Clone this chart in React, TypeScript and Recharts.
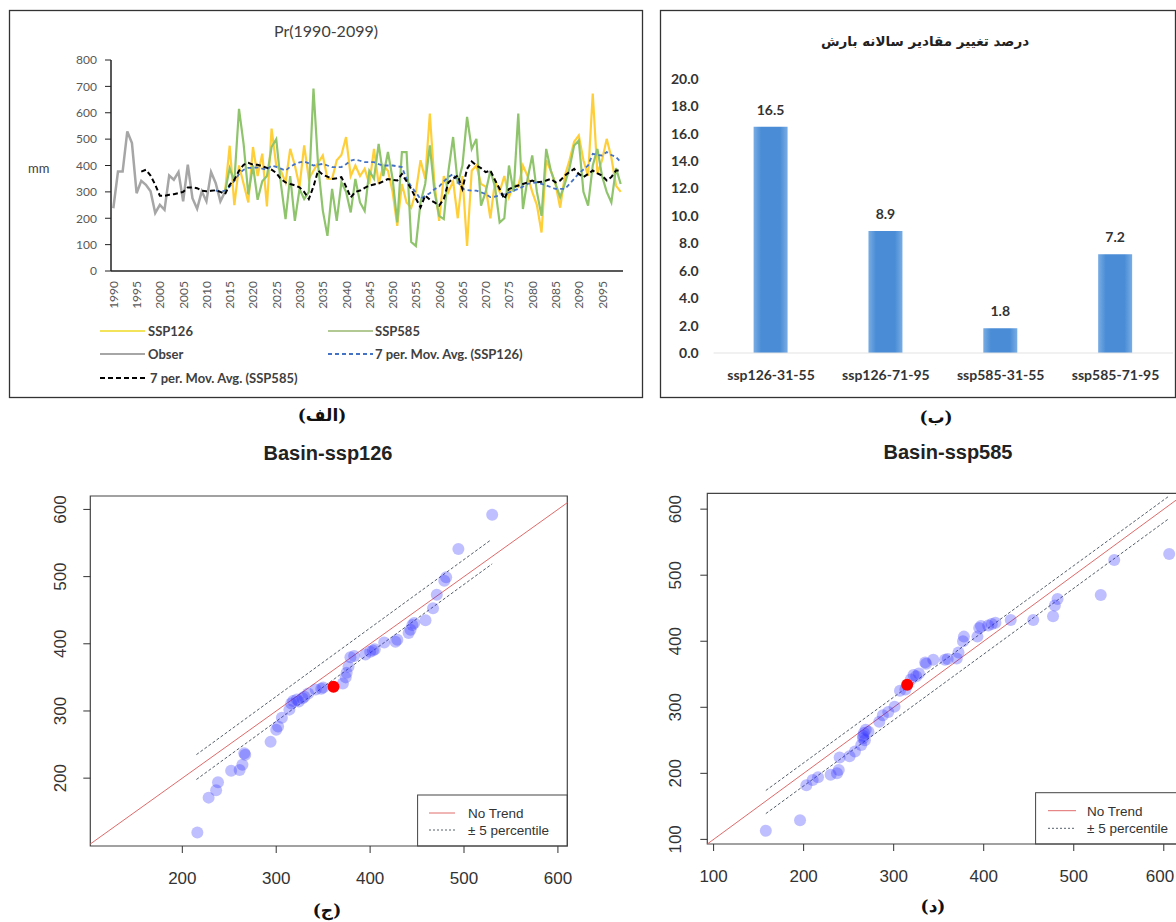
import React from 'react';
import {
  LineChart,
  Line,
  XAxis,
  YAxis,
  BarChart,
  Bar,
  LabelList,
  ScatterChart,
  Scatter,
  ReferenceLine,
  ReferenceArea,
} from 'recharts';

// ---------- (الف) annual precipitation 1990-2099, mm ----------
const obsStart = 1990;
const obsValues = [238, 377, 377, 529, 485, 295, 342, 327, 302, 220, 251, 232, 362, 346, 375, 264, 403, 276, 236, 302, 264, 375, 333, 264, 300];

const sspStart = 2014;
const ssp126Values = [
  300, 475, 250, 400, 330, 260, 470, 360, 445, 245,
  540, 400, 380, 336, 463, 400, 320, 476, 349, 380,
  410, 438, 350, 349, 420, 440, 508, 360, 400, 360,
  387, 330, 463, 330, 400, 380, 300, 171, 330, 260,
  240, 300, 420, 350, 597, 330, 190, 360, 300, 340,
  200, 360, 95, 380, 400, 330, 320, 200, 340, 300,
  360, 280, 330, 320, 400, 360, 300, 250, 146, 420,
  380, 330, 240, 360, 420, 490, 514, 420, 360, 673,
  370, 420, 501, 430, 324, 300,
];
const ssp585Values = [
  300, 390, 340, 615, 480, 290, 400, 270, 340, 360,
  470, 500, 330, 197, 360, 190, 311, 273, 300, 692,
  400, 230, 133, 311, 190, 336, 300, 222, 349, 260,
  228, 380, 350, 482, 360, 451, 350, 184, 451, 451,
  110, 95, 260, 330, 476, 300, 209, 197, 380, 508,
  330, 400, 584, 463, 501, 248, 300, 380, 320, 184,
  200, 400, 300, 597, 235, 350, 438, 300, 209, 463,
  380, 330, 280, 330, 390, 476, 495, 300, 248, 400,
  463, 360, 300, 260, 390, 330,
];

// 7 per. moving averages as drawn
const ma585Start = 1996;
const ma585Values = [
  377, 384, 362, 327, 285, 285, 289, 291, 295, 300,
  317, 317, 314, 304, 302, 304, 306, 300, 291, 327,
  346, 380, 403, 410, 403, 403, 397, 391, 384, 372,
  349, 336, 330, 325, 317, 300, 273, 320, 381, 365,
  358, 349, 352, 356, 320, 279, 300, 305, 315, 324,
  328, 332, 340, 349, 345, 343, 368, 340, 311, 275,
  241, 286, 270, 260, 248, 273, 336, 350, 362, 311,
  387, 415, 400, 390, 375, 381, 345, 311, 273, 311,
  318, 324, 330, 336, 343, 336, 338, 343, 349, 336,
  343, 362, 375, 387, 368, 356, 368, 381, 370, 362,
  343, 356, 381, 381,
];
const ma126Start = 2012;
const ma126Values = [
  306, 300, 305, 320, 342, 367, 384, 391, 391, 393,
  388, 384, 400, 395, 388, 381, 395, 405, 412, 415,
  408, 400, 403, 406, 400, 394, 394, 394, 405, 418,
  423, 418, 413, 413, 413, 405, 400, 400, 400, 397,
  394, 349, 320, 298, 273, 285, 295, 310, 320, 340,
  356, 368, 340, 311, 307, 305, 305, 298, 292, 280,
  282, 286, 292, 298, 305, 311, 320, 330, 333, 336,
  330, 324, 318, 311, 311, 311, 330, 349, 370, 385,
  400, 444, 440, 438, 451, 440, 432, 413,
];

const yearTicks = [1990, 1995, 2000, 2005, 2010, 2015, 2020, 2025, 2030, 2035, 2040, 2045, 2050, 2055, 2060, 2065, 2070, 2075, 2080, 2085, 2090, 2095];
const mmTicks = [0, 100, 200, 300, 400, 500, 600, 700, 800];

// ---------- (ب) percent change of annual precipitation ----------
const periodLabels = ['ssp126-31-55', 'ssp126-71-95', 'ssp585-31-55', 'ssp585-71-95'];
const changeValues = [16.5, 8.9, 1.8, 7.2];
const pctTicks = [0, 2, 4, 6, 8, 10, 12, 14, 16, 18, 20];

// ---------- (ج) Basin-ssp126 ----------
const b126X = [216, 228, 236, 238, 252, 261, 264, 267, 266, 294, 300, 302, 306, 314, 316, 318, 322, 324, 328, 330, 334, 342, 348, 350, 371, 374, 375, 377, 379, 383, 395, 400, 403, 405, 415, 427, 429, 441, 443, 445, 447, 459, 467, 471, 479, 481, 494, 530];
const b126Y = [119, 171, 182, 194, 211, 212, 220, 235, 237, 254, 272, 277, 290, 302, 311, 315, 317, 314, 319, 321, 326, 332, 333, 335, 341, 350, 357, 366, 380, 382, 384, 388, 390, 392, 402, 403, 406, 416, 421, 428, 431, 435, 453, 473, 494, 499, 541, 592];
const b126Mark = [361, 336];
const b126Upper = [[215, 235], [529, 555]];
const b126Lower = [[215, 198], [530, 519]];
const b126Ticks = [200, 300, 400, 500, 600];

// ---------- (د) Basin-ssp585 ----------
const b585X = [158, 196, 203, 210, 216, 230, 237, 239, 240, 251, 257, 264, 266, 266, 267, 268, 269, 272, 284, 288, 294, 301, 307, 313, 319, 322, 325, 328, 335, 336, 344, 357, 360, 370, 372, 377, 378, 393, 395, 397, 405, 409, 413, 430, 455, 477, 479, 482, 530, 545, 606];
const b585Y = [113, 129, 182, 190, 194, 198, 200, 205, 224, 226, 233, 243, 253, 257, 261, 250, 266, 263, 278, 288, 293, 301, 325, 327, 342, 349, 347, 351, 368, 366, 372, 372, 373, 374, 383, 400, 407, 407, 420, 423, 424, 426, 428, 432, 432, 438, 454, 464, 470, 523, 532];
const b585Mark = [315, 334];
const b585Upper = [[158, 174], [606, 620]];
const b585Lower = [[158, 139], [606, 586]];
const b585Ticks = [100, 200, 300, 400, 500, 600];

const at = (arr: number[], start: number, year: number) => {
  const v = arr[year - start];
  return v === undefined || year < start ? null : v;
};

const precipRows: any[] = [];
for (let y = 1990; y <= 2099; y++) {
  precipRows.push({
    year: y,
    obs: at(obsValues, obsStart, y),
    ssp126: at(ssp126Values, sspStart, y),
    ssp585: at(ssp585Values, sspStart, y),
    ma126: at(ma126Values, ma126Start, y),
    ma585: at(ma585Values, ma585Start, y),
  });
}

const barRows = periodLabels.map((p, i) => ({ period: p, change: changeValues[i] }));
const toPoints = (xs: number[], ys: number[]) => xs.map((x, i) => ({ x, y: ys[i] }));
const b126Points = toPoints(b126X, b126Y);
const b585Points = toPoints(b585X, b585Y);

const EXCEL_FONT = 'Lato, "Open Sans", sans-serif';
const R_FONT = '"Liberation Sans", Arial, sans-serif';
const CAP_FONT = '"DejaVu Serif", "DejaVu Sans", serif';

const YearTick = ({ x, y, payload }: any) => (
  <text
    x={x}
    y={y}
    transform={`rotate(-90 ${x} ${y})`}
    textAnchor="end"
    dominantBaseline="central"
    fontSize={12}
    fill="#595959"
    fontFamily={EXCEL_FONT}
  >
    {payload.value}
  </text>
);

const RotTick = ({ x, y, payload }: any) => (
  <text
    x={x}
    y={y}
    transform={`rotate(-90 ${x} ${y})`}
    textAnchor="middle"
    fontSize={17}
    fill="#333"
    fontFamily={R_FONT}
  >
    {payload.value}
  </text>
);

// x tick that stays inside the visible page edge
const makeXTick = (maxX: number) => ({ x, y, payload }: any) => {
  const half = 15;
  const cx = Math.min(x, maxX - half);
  return (
    <text x={cx} y={y} dy="0.71em" textAnchor="middle" fontSize={17} fill="#333" fontFamily={R_FONT}>
      {payload.value}
    </text>
  );
};

const blueDot = (p: any) => <circle cx={p.cx} cy={p.cy} r={6} fill="#2a2aff" fillOpacity={0.3} />;
const redDot = (p: any) => <circle cx={p.cx} cy={p.cy} r={6} fill="#ff0000" />;

const QQPanel = ({ points, mark, upper, lower, xDomain, yDomain, ticks, margin, width, maxX }: any) => {
  const XTick = makeXTick(maxX);
  const lo = Math.max(xDomain[0], yDomain[0]);
  const hi = Math.min(xDomain[1], yDomain[1]);
  return (
    <ScatterChart width={width} height={460} margin={margin}>
      <ReferenceArea x1={xDomain[0]} x2={xDomain[1]} y1={yDomain[0]} y2={yDomain[1]} fill="none" stroke="#444" strokeWidth={1.2} />
      <XAxis
        type="number"
        dataKey="x"
        domain={xDomain}
        ticks={ticks}
        interval={0}
        allowDataOverflow
        axisLine={false}
        tickSize={7}
        tickMargin={19}
        tickLine={{ stroke: '#333' }}
        tick={<XTick />}
        height={40}
      />
      <YAxis
        type="number"
        dataKey="y"
        domain={yDomain}
        ticks={ticks}
        interval={0}
        allowDataOverflow
        axisLine={false}
        tickSize={7}
        tickMargin={margin.tm}
        tickLine={{ stroke: '#333' }}
        tick={<RotTick />}
        width={50}
      />
      <ReferenceLine segment={[{ x: lo, y: lo }, { x: hi, y: hi }]} stroke="#e06a6a" strokeWidth={1} />
      <ReferenceLine segment={[{ x: upper[0][0], y: upper[0][1] }, { x: upper[1][0], y: upper[1][1] }]} stroke="#56606c" strokeDasharray="3 2" strokeWidth={1} />
      <ReferenceLine segment={[{ x: lower[0][0], y: lower[0][1] }, { x: lower[1][0], y: lower[1][1] }]} stroke="#56606c" strokeDasharray="3 2" strokeWidth={1} />
      <Scatter data={points} shape={blueDot} isAnimationActive={false} />
      <Scatter data={[{ x: mark[0], y: mark[1] }]} shape={redDot} isAnimationActive={false} />
    </ScatterChart>
  );
};

const LegendLine = ({ x, y, color, dash, text, textX }: any) => (
  <g>
    <line x1={x} x2={x + 45} y1={y} y2={y} stroke={color} strokeWidth={2.2} strokeDasharray={dash} />
    <text x={textX} y={y + 4.5} fontSize={13} fontWeight={700} fill="#404040" fontFamily={EXCEL_FONT}>
      {text}
    </text>
  </g>
);

export default function App() {
  return (
    <div style={{ position: 'absolute', left: 0, top: 0, width: 1176, height: 922, overflow: 'hidden', background: '#fff' }}>
      {/* (الف) */}
      <div style={{ position: 'absolute', left: 10, top: 10 }}>
        <LineChart width={633} height={300} data={precipRows} margin={{ top: 50, right: 20, bottom: 0, left: 61 }}>
          <XAxis
            dataKey="year"
            type="number"
            domain={[1989.5, 2099.5]}
            ticks={yearTicks}
            interval={0}
            allowDataOverflow
            tick={<YearTick />}
            tickLine={false}
            tickSize={0}
            tickMargin={10}
            height={39}
            axisLine={{ stroke: '#222', strokeWidth: 1.5 }}
          />
          <YAxis
            domain={[0, 800]}
            ticks={mmTicks}
            interval={0}
            width={40}
            tickSize={6}
            tickMargin={8}
            tick={{ fontSize: 12, fill: '#595959', fontFamily: EXCEL_FONT }}
            axisLine={{ stroke: '#222', strokeWidth: 1.5 }}
            tickLine={{ stroke: '#222' }}
          />
          <Line dataKey="obs" stroke="#a6a6a6" strokeWidth={2.5} dot={false} isAnimationActive={false} />
          <Line dataKey="ssp126" stroke="#ffcf3a" strokeWidth={2.2} dot={false} isAnimationActive={false} />
          <Line dataKey="ssp585" stroke="#8fc46c" strokeWidth={2.2} dot={false} isAnimationActive={false} />
          <Line dataKey="ma126" stroke="#4472c4" strokeWidth={1.8} strokeDasharray="4 3" dot={false} isAnimationActive={false} />
          <Line dataKey="ma585" stroke="#000" strokeWidth={2} strokeDasharray="5 3" dot={false} isAnimationActive={false} />
        </LineChart>
      </div>

      {/* (ب) */}
      <div style={{ position: 'absolute', left: 660, top: 10 }}>
        <BarChart width={516} height={388} data={barRows} margin={{ top: 68.8, right: 3, bottom: 15, left: 0 }}>
          <defs>
            <linearGradient id="barFill" x1="0" y1="0" x2="1" y2="0">
              <stop offset="0%" stopColor="#79ade4" />
              <stop offset="22%" stopColor="#4a8dd6" />
              <stop offset="78%" stopColor="#4a8dd6" />
              <stop offset="100%" stopColor="#79ade4" />
            </linearGradient>
          </defs>
          <XAxis
            dataKey="period"
            interval={0}
            tickLine={false}
            tickSize={0}
            tickMargin={17}
            height={30}
            axisLine={{ stroke: '#e3e3e3' }}
            tick={{ fontSize: 14, fontWeight: 700, fill: '#333', fontFamily: EXCEL_FONT }}
          />
          <YAxis
            domain={[0, 20]}
            ticks={pctTicks}
            interval={0}
            width={53.6}
            axisLine={false}
            tickLine={false}
            tickSize={0}
            tickMargin={15}
            tickFormatter={(v: number) => v.toFixed(1)}
            tick={{ fontSize: 14, fontWeight: 700, fill: '#333', fontFamily: EXCEL_FONT }}
          />
          <Bar dataKey="change" barSize={34} fill="url(#barFill)" isAnimationActive={false}>
            <LabelList
              dataKey="change"
              position="top"
              offset={12}
              formatter={(v: any) => Number(v).toFixed(1)}
              fill="#333"
              fontSize={14}
              fontWeight={700}
              fontFamily={EXCEL_FONT}
            />
          </Bar>
        </BarChart>
      </div>

      {/* (ج) */}
      <div style={{ position: 'absolute', left: 0, top: 440 }}>
        <QQPanel
          width={600}
          maxX={600}
          points={b126Points}
          mark={b126Mark}
          upper={b126Upper}
          lower={b126Lower}
          xDomain={[102, 610]}
          yDomain={[99, 620]}
          ticks={b126Ticks}
          margin={{ top: 56, right: 32.7, bottom: 14, left: 40.3, tm: 17 }}
        />
      </div>

      {/* (د) */}
      <div style={{ position: 'absolute', left: 630, top: 440 }}>
        <QQPanel
          width={580}
          maxX={545}
          points={b585Points}
          mark={b585Mark}
          upper={b585Upper}
          lower={b585Lower}
          xDomain={[93, 624]}
          yDomain={[93, 624]}
          ticks={b585Ticks}
          margin={{ top: 53.3, right: 24.6, bottom: 16, left: 27.3, tm: 19 }}
        />
      </div>

      <svg width={1176} height={922} style={{ position: 'absolute', left: 0, top: 0, pointerEvents: 'none' }}>
        {/* frame + texts of (الف) */}
        <rect x={9.5} y={10.5} width={633} height={387} fill="none" stroke="#333" strokeWidth={1.3} />
        <text x={326} y={37} textAnchor="middle" fontSize={16} fill="#404040" fontFamily={EXCEL_FONT}>
          Pr(1990-2099)
        </text>
        <text x={28} y={173} fontSize={13} fill="#404040" fontFamily={EXCEL_FONT}>
          mm
        </text>
        <LegendLine x={100} y={331} color="#f2e35a" text="SSP126" textX={148} />
        <LegendLine x={328} y={331} color="#b3c994" text="SSP585" textX={375} />
        <LegendLine x={100} y={354} color="#a6a6a6" text="Obser" textX={148} />
        <LegendLine x={328} y={354} color="#4472c4" dash="4 3" text="7 per. Mov. Avg. (SSP126)" textX={375} />
        <LegendLine x={100} y={378} color="#000" dash="5 3" text="7 per. Mov. Avg. (SSP585)" textX={150} />
        <text x={322} y={421} textAnchor="middle" fontSize={17} fontWeight={700} fill="#111" fontFamily={CAP_FONT}>
          (الف)
        </text>

        {/* frame + texts of (ب) */}
        <rect x={660.5} y={10.5} width={515} height={387} fill="none" stroke="#333" strokeWidth={1.3} />
        <text x={925} y={46} textAnchor="middle" fontSize={13.5} fontWeight={700} fill="#222" fontFamily='"DejaVu Sans", sans-serif' direction="rtl">
          درصد تغییر مقادیر سالانه بارش
        </text>
        <text x={936} y={423} textAnchor="middle" fontSize={17} fontWeight={700} fill="#111" fontFamily={CAP_FONT}>
          (ب)
        </text>

        {/* (ج) title, legend, caption */}
        <text x={328} y={460} textAnchor="middle" fontSize={20} fontWeight={700} fill="#222" fontFamily={R_FONT}>
          Basin-ssp126
        </text>
        <rect x={417.6} y={795} width={149.7} height={51} fill="none" stroke="#444" strokeWidth={1} />
        <line x1={429} x2={455} y1={813} y2={813} stroke="#e06a6a" strokeWidth={1} />
        <text x={468} y={818} fontSize={13.5} fill="#333" fontFamily={R_FONT}>No Trend</text>
        <line x1={429} x2={455} y1={830} y2={830} stroke="#56606c" strokeWidth={1} strokeDasharray="2 2" />
        <text x={468} y={835} fontSize={13.5} fill="#333" fontFamily={R_FONT}>± 5 percentile</text>
        <text x={327} y={916} textAnchor="middle" fontSize={17} fontWeight={700} fill="#111" fontFamily={CAP_FONT}>
          (ج)
        </text>

        {/* (د) title, legend, caption */}
        <text x={948} y={459} textAnchor="middle" fontSize={20} fontWeight={700} fill="#222" fontFamily={R_FONT}>
          Basin-ssp585
        </text>
        <rect x={1035.6} y={792.7} width={200} height={51.3} fill="none" stroke="#444" strokeWidth={1} />
        <line x1={1048} x2={1076} y1={810.7} y2={810.7} stroke="#e06a6a" strokeWidth={1} />
        <text x={1087} y={815.5} fontSize={13.5} fill="#333" fontFamily={R_FONT}>No Trend</text>
        <line x1={1048} x2={1076} y1={828.3} y2={828.3} stroke="#56606c" strokeWidth={1} strokeDasharray="2 2" />
        <text x={1087} y={833} fontSize={13.5} fill="#333" fontFamily={R_FONT}>± 5 percentile</text>
        <text x={933} y={912} textAnchor="middle" fontSize={17} fontWeight={700} fill="#111" fontFamily={CAP_FONT}>
          (د)
        </text>
      </svg>
    </div>
  );
}
